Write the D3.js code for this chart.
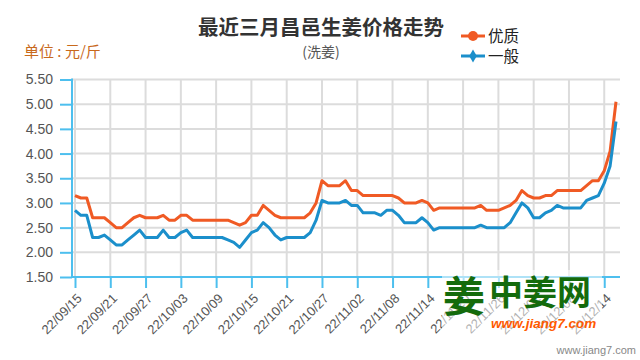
<!DOCTYPE html>
<html>
<head>
<meta charset="utf-8">
<script src="https://cdn.jsdelivr.net/npm/d3@7"></script>
<style>
  html, body { margin: 0; padding: 0; background: #fff; }
  svg { display: block; }
  text { font-family: "Liberation Sans", Arial, "Noto Sans CJK SC", sans-serif; }
  .cjk { font-family: "Noto Sans CJK SC", sans-serif; }
</style>
</head>
<body>
<svg id="chart" width="640" height="360"></svg>
<script>
// ---- data ----
const categories = [
  "22/09/15","22/09/16","22/09/17","22/09/18","22/09/19","22/09/20","22/09/21","22/09/22","22/09/23","22/09/24",
  "22/09/25","22/09/26","22/09/27","22/09/28","22/09/29","22/09/30",
  "22/10/01","22/10/02","22/10/03","22/10/04","22/10/05","22/10/06","22/10/07","22/10/08","22/10/09","22/10/10",
  "22/10/11","22/10/12","22/10/13","22/10/14","22/10/15","22/10/16","22/10/17","22/10/18","22/10/19","22/10/20",
  "22/10/21","22/10/22","22/10/23","22/10/24","22/10/25","22/10/26","22/10/27","22/10/28","22/10/29","22/10/30","22/10/31",
  "22/11/01","22/11/02","22/11/03","22/11/04","22/11/05","22/11/06","22/11/07","22/11/08","22/11/09","22/11/10",
  "22/11/11","22/11/12","22/11/13","22/11/14","22/11/15","22/11/16","22/11/17","22/11/18","22/11/19","22/11/20",
  "22/11/21","22/11/22","22/11/23","22/11/24","22/11/25","22/11/26","22/11/27","22/11/28","22/11/29","22/11/30",
  "22/12/01","22/12/02","22/12/03","22/12/04","22/12/05","22/12/06","22/12/07","22/12/08","22/12/09","22/12/10",
  "22/12/11","22/12/12","22/12/13","22/12/14","22/12/15","22/12/16"
];
const premium = [
  3.15, 3.1, 3.1, 2.7, 2.7, 2.7, 2.6, 2.5, 2.5, 2.6,
  2.7, 2.75, 2.7, 2.7, 2.7, 2.75, 2.65, 2.65, 2.75, 2.75,
  2.65, 2.65, 2.65, 2.65, 2.65, 2.65, 2.65, 2.6, 2.55, 2.6,
  2.75, 2.75, 2.95, 2.85, 2.75, 2.7, 2.7, 2.7, 2.7, 2.7,
  2.8, 3.0, 3.45, 3.35, 3.35, 3.35, 3.45, 3.25, 3.25, 3.15,
  3.15, 3.15, 3.15, 3.15, 3.15, 3.1, 3.0, 3.0, 3.0, 3.05,
  3.0, 2.85, 2.9, 2.9, 2.9, 2.9, 2.9, 2.9, 2.9, 2.95,
  2.85, 2.85, 2.85, 2.9, 2.95, 3.05, 3.25, 3.15, 3.1, 3.1,
  3.15, 3.15, 3.25, 3.25, 3.25, 3.25, 3.25, 3.35, 3.45, 3.45,
  3.65, 4.05, 5.05
];
const standard = [
  2.85, 2.75, 2.75, 2.3, 2.3, 2.35, 2.25, 2.15, 2.15, 2.25,
  2.35, 2.45, 2.3, 2.3, 2.3, 2.45, 2.3, 2.3, 2.4, 2.45,
  2.3, 2.3, 2.3, 2.3, 2.3, 2.3, 2.25, 2.2, 2.1, 2.25,
  2.4, 2.45, 2.6, 2.5, 2.35, 2.25, 2.3, 2.3, 2.3, 2.3,
  2.4, 2.65, 3.05, 3.0, 3.0, 3.0, 3.05, 2.95, 2.95, 2.8,
  2.8, 2.8, 2.75, 2.85, 2.85, 2.75, 2.6, 2.6, 2.6, 2.7,
  2.6, 2.45, 2.5, 2.5, 2.5, 2.5, 2.5, 2.5, 2.5, 2.55,
  2.5, 2.5, 2.5, 2.5, 2.6, 2.8, 3.0, 2.9, 2.7, 2.7,
  2.8, 2.85, 2.95, 2.9, 2.9, 2.9, 2.9, 3.05, 3.1, 3.15,
  3.4, 3.75, 4.65
];
const tickLabels = ["22/09/15","22/09/21","22/09/27","22/10/03","22/10/09","22/10/15","22/10/21","22/10/27",
  "22/11/02","22/11/08","22/11/14","22/11/20","22/11/26","22/12/02","22/12/08","22/12/14"];
const yTicks = [1.5, 2.0, 2.5, 3.0, 3.5, 4.0, 4.5, 5.0, 5.5];
const seriesNames = ["优质", "一般"];
const titleText = "最近三月昌邑生姜价格走势";
const subtitleText = "(洗姜)";
const unitText = "单位 : 元/斤";

// ---- layout ----
const svg = d3.select("#chart");
const axisX = 72, plotRight = 620, plotTop = 79.5, plotBottom = 277;
const axisColor = "#4dbfee";
const gridColor = "#dcdcdc";
const colors = ["#f05a24", "#1b8fcb"];

const x = d3.scalePoint().domain(categories).range([75, 616]).padding(0);
const y = d3.scaleLinear().domain([1.5, 5.5]).range([plotBottom, plotTop]);

// horizontal grid
svg.append("g").selectAll("line").data(yTicks).join("line")
  .attr("x1", axisX).attr("x2", plotRight)
  .attr("y1", d => y(d)).attr("y2", d => y(d))
  .attr("stroke", gridColor).attr("stroke-width", 2);
// vertical grid
svg.append("g").selectAll("line").data(tickLabels).join("line")
  .attr("x1", d => x(d)).attr("x2", d => x(d))
  .attr("y1", plotTop).attr("y2", plotBottom)
  .attr("stroke", gridColor).attr("stroke-width", 2);

// y axis
const yAxis = svg.append("g").attr("transform", `translate(${axisX},0)`)
  .call(d3.axisLeft(y).tickValues(yTicks).tickFormat(d3.format(".2f")).tickSize(12).tickPadding(7));
yAxis.select(".domain").attr("stroke", axisColor).attr("stroke-width", 2).attr("d", `M0,${plotTop - 1}V${plotBottom}`);
yAxis.selectAll(".tick line").attr("stroke", axisColor).attr("stroke-width", 2);
yAxis.selectAll(".tick text").attr("fill", "#555").attr("font-size", 14)
  .attr("font-family", "'Liberation Sans', Arial, sans-serif");

// x axis
const xAxis = svg.append("g").attr("transform", `translate(0,${plotBottom})`)
  .call(d3.axisBottom(x).tickValues(tickLabels).tickSize(11).tickPadding(4));
xAxis.select(".domain").attr("stroke", axisColor).attr("stroke-width", 2).attr("d", `M${axisX},0H${plotRight}`);
xAxis.selectAll(".tick line").attr("stroke", axisColor).attr("stroke-width", 2);
xAxis.selectAll(".tick text").attr("fill", "#555").attr("font-size", 13)
  .attr("font-family", "'Liberation Sans', Arial, sans-serif")
  .attr("text-anchor", "end").attr("y", 0).attr("dy", "0.35em")
  .attr("transform", "translate(4,19) rotate(-45)");

// lines
const lineGen = d3.line().x((d, i) => x(categories[i])).y(d => y(d));
[premium, standard].forEach((s, k) => {
  svg.append("path").datum(s).attr("d", lineGen)
    .attr("fill", "none").attr("stroke", colors[k]).attr("stroke-width", 3)
    .attr("stroke-linejoin", "round");
});

// title
svg.append("text").attr("class", "cjk").attr("x", 321).attr("y", 35)
  .attr("text-anchor", "middle").attr("font-size", 20.5).attr("font-weight", "bold")
  .attr("fill", "#333").text(titleText);
svg.append("text").attr("class", "cjk").attr("x", 321).attr("y", 57)
  .attr("text-anchor", "middle").attr("font-size", 14).attr("fill", "#555").text(subtitleText);
svg.append("text").attr("class", "cjk").attr("x", 24).attr("y", 57)
  .attr("font-size", 15).attr("fill", "#c8691c").text(unitText);

// legend
const legend = svg.append("g");
seriesNames.forEach((name, k) => {
  const ly = 36 + k * 20;
  legend.append("line").attr("x1", 461).attr("x2", 485).attr("y1", ly).attr("y2", ly)
    .attr("stroke", colors[k]).attr("stroke-width", 3);
  if (k === 0) {
    legend.append("circle").attr("cx", 473).attr("cy", ly).attr("r", 5).attr("fill", colors[k]);
  } else {
    legend.append("path").attr("d", d3.symbol(d3.symbolDiamond, 50)())
      .attr("transform", `translate(473,${ly})`).attr("fill", colors[k]);
  }
  legend.append("text").attr("class", "cjk").attr("x", 488).attr("y", ly + 5.5)
    .attr("font-size", 15.5).attr("fill", "#222").text(name);
});

// watermark logo
const wm = svg.append("g");
wm.append("rect").attr("x", 442).attr("y", 270).attr("width", 160).attr("height", 64)
  .attr("fill", "#fff").attr("opacity", 0.55);
wm.append("text").attr("class", "cjk").attr("x", 443).attr("y", 312)
  .attr("font-size", 42).attr("font-weight", "bold").attr("fill", "#146b0c").text("姜");
wm.append("text").attr("class", "cjk").attr("x", 489).attr("y", 305)
  .attr("font-size", 34).attr("font-weight", "bold").attr("fill", "#146b0c").text("中姜网");
wm.append("text").attr("x", 491).attr("y", 328)
  .attr("font-size", 13.5).attr("font-weight", "bold").attr("font-style", "italic")
  .attr("fill", "#ff5a00").text("www.jiang7.com");
svg.append("text").attr("x", 636).attr("y", 354).attr("text-anchor", "end")
  .attr("font-size", 11).attr("fill", "#888").text("www.jiang7.com");
</script>
</body>
</html>
